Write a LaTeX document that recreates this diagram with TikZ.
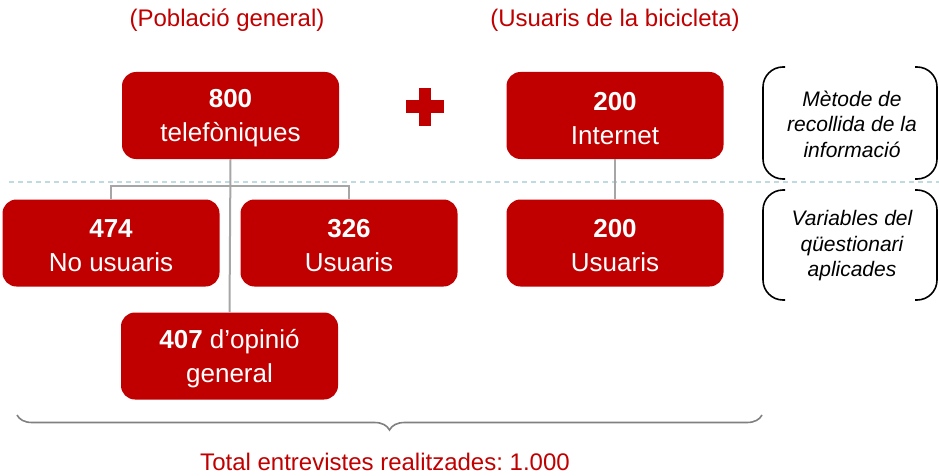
\documentclass[tikz,border=0pt]{standalone}
\usepackage{fontspec}
\setmainfont{Liberation Sans}
\frenchspacing
\usetikzlibrary{decorations.pathreplacing}
\definecolor{vermell}{HTML}{C00000}
\definecolor{gris}{HTML}{A6A6A6}
\definecolor{grisclau}{HTML}{808080}
\definecolor{blaupal}{HTML}{C0DAE2}
\newcommand{\xifra}[1]{\rule{0pt}{24pt}\textbf{#1}}
\tikzset{
  caixa/.style={fill=vermell, rounded corners=14pt, minimum width=217pt, minimum height=87pt,
    inner sep=0pt, text=white, align=center, font=\fontsize{26}{34}\selectfont},
  titol/.style={text=vermell, font=\fontsize{24}{28}\selectfont},
  nota/.style={align=center, font=\fontsize{21}{25.5}\selectfont\itshape},
  enllac/.style={draw=gris, line width=2pt},
  claudator/.style={draw=black, line width=1.6pt, rounded corners=20pt}
}
\begin{document}
\begin{tikzpicture}[x=1pt,y=-1pt]
\useasboundingbox (0,0) rectangle (939,476);

\draw [blaupal, line width=1.2pt, dash pattern=on 5pt off 4pt] (9,182) -- (939,182);

\node [titol] (pob) at (227,20) {(Població general)};
\node [titol] (bici) at (615,20) {(Usuaris de la bicicleta)};

\node [caixa] (tel) at (230.5,115.5) {\xifra{800}\\telefòniques};
\node [caixa] (nous) at (111,243) {\xifra{474}\\No usuaris};
\node [caixa] (us) at (349,243) {\xifra{326}\\Usuaris};
\node [caixa] (opin) at (229.5,356) {\xifra{407} d’opinió\\general};
\node [caixa] (inet) at (615,115.5) {\xifra{200}\\Internet};
\node [caixa] (usb) at (615,243) {\xifra{200}\\Usuaris};

\draw [enllac] (tel.south) -- (opin.north);
\draw [enllac] (nous.north) -- ++(0,-13) -| (us.north);
\draw [enllac] (inet.south) -- (usb.north);

\fill [vermell] (419,88) rectangle (431,126);
\fill [vermell] (406,100) rectangle (444,113);

\draw [claudator] (785,67) -- (763,67) -- (763,179) -- (785,179);
\draw [claudator] (915,67) -- (937,67) -- (937,179) -- (915,179);
\node [nota] (metode) at (852,124) {Mètode de\\recollida de la\\informació};

\draw [claudator] (785,190) -- (763,190) -- (763,300) -- (785,300);
\draw [claudator] (915,190) -- (937,190) -- (937,300) -- (915,300);
\node [nota] (vars) at (852,246) {Variables del\\qüestionari\\aplicades};

\coordinate (clauA) at (17,415);
\coordinate (clauB) at (762,415);
\draw [grisclau, line width=1.6pt, decorate, decoration={brace, mirror, amplitude=15pt}] (clauA) -- (clauB);
\node [titol] (total) at (385,462) {Total entrevistes realitzades: 1.000};

\end{tikzpicture}
\end{document}
